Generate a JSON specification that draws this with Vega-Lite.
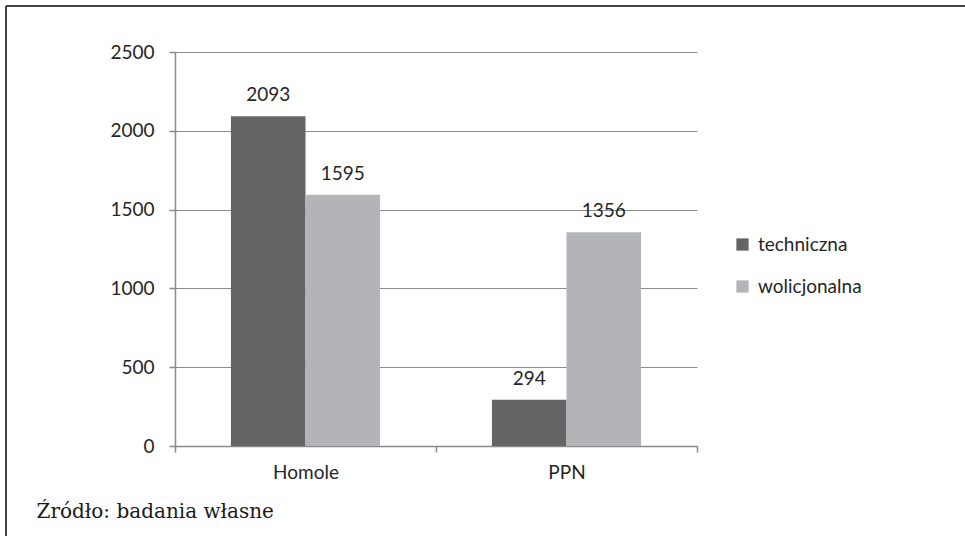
{
  "$schema": "https://vega.github.io/schema/vega-lite/v6.json",
  "autosize": {"type": "none"},
  "padding": {"left": 6, "top": 6, "right": 0, "bottom": 0},
  "width": 959,
  "height": 530,
  "background": "white",
  "config": {
    "view": {"stroke": "#444444", "strokeWidth": 2, "strokeDash": [959, 1489, 530, 0]},
    "font": "Lato",
    "text": {"font": "Lato"}
  },
  "data": {
    "values": [
      {"miejsce": "Homole", "rodzaj": "techniczna", "liczba": 2093},
      {"miejsce": "Homole", "rodzaj": "wolicjonalna", "liczba": 1595},
      {"miejsce": "PPN", "rodzaj": "techniczna", "liczba": 294},
      {"miejsce": "PPN", "rodzaj": "wolicjonalna", "liczba": 1356}
    ]
  },
  "encoding": {
    "x": {
      "field": "miejsce",
      "type": "nominal",
      "sort": ["Homole", "PPN"],
      "scale": {"range": [169, 691], "paddingInner": 0, "paddingOuter": 0},
      "axis": {
        "orient": "bottom",
        "offset": -90,
        "tickBand": "extent",
        "tickSize": 6,
        "tickColor": "#8a8a8a",
        "tickWidth": 1.5,
        "domainColor": "#8a8a8a",
        "domainWidth": 1.5,
        "labelAngle": 0,
        "labelFont": "Lato",
        "labelFontSize": 19,
        "labelColor": "#262626",
        "labelPadding": 11,
        "title": "Źródło: badania własne",
        "titleFont": "DejaVu Serif",
        "titleFontSize": 20,
        "titleFontWeight": "normal",
        "titleColor": "#1a1a1a",
        "titleAnchor": "start",
        "titleAlign": "left",
        "titleBaseline": "alphabetic",
        "titleX": 30,
        "titleY": 71
      }
    },
    "xOffset": {
      "field": "rodzaj",
      "type": "nominal",
      "sort": ["techniczna", "wolicjonalna"],
      "scale": {"paddingInner": 0, "paddingOuter": 0.75}
    },
    "y": {
      "field": "liczba",
      "type": "quantitative",
      "scale": {"domain": [0, 2500], "range": [440, 46], "nice": false},
      "axis": {
        "orient": "left",
        "offset": -169,
        "values": [0, 500, 1000, 1500, 2000, 2500],
        "format": "d",
        "grid": true,
        "gridColor": "#8c8c8c",
        "gridWidth": 1,
        "tickSize": 6,
        "tickColor": "#8a8a8a",
        "tickWidth": 1.5,
        "domainColor": "#8a8a8a",
        "domainWidth": 1.5,
        "labelFont": "Lato",
        "labelFontSize": 19,
        "labelColor": "#262626",
        "labelPadding": 15,
        "title": null
      }
    }
  },
  "layer": [
    {
      "mark": {"type": "bar"},
      "encoding": {
        "color": {
          "field": "rodzaj",
          "type": "nominal",
          "sort": ["techniczna", "wolicjonalna"],
          "scale": {"domain": ["techniczna", "wolicjonalna"], "range": ["#646464", "#b3b4b7"]},
          "legend": {
            "title": null,
            "orient": "none",
            "legendX": 727,
            "legendY": 229,
            "padding": 0,
            "symbolType": "square",
            "symbolSize": 150,
            "symbolStrokeWidth": 0,
            "labelOffset": 6,
            "labelFont": "Lato",
            "labelFontSize": 19,
            "labelColor": "#262626",
            "rowPadding": 22
          }
        }
      }
    },
    {
      "mark": {"type": "text", "dy": -15, "baseline": "alphabetic", "fontSize": 19, "color": "#262626"},
      "encoding": {
        "text": {"field": "liczba", "type": "quantitative"}
      }
    }
  ]
}
